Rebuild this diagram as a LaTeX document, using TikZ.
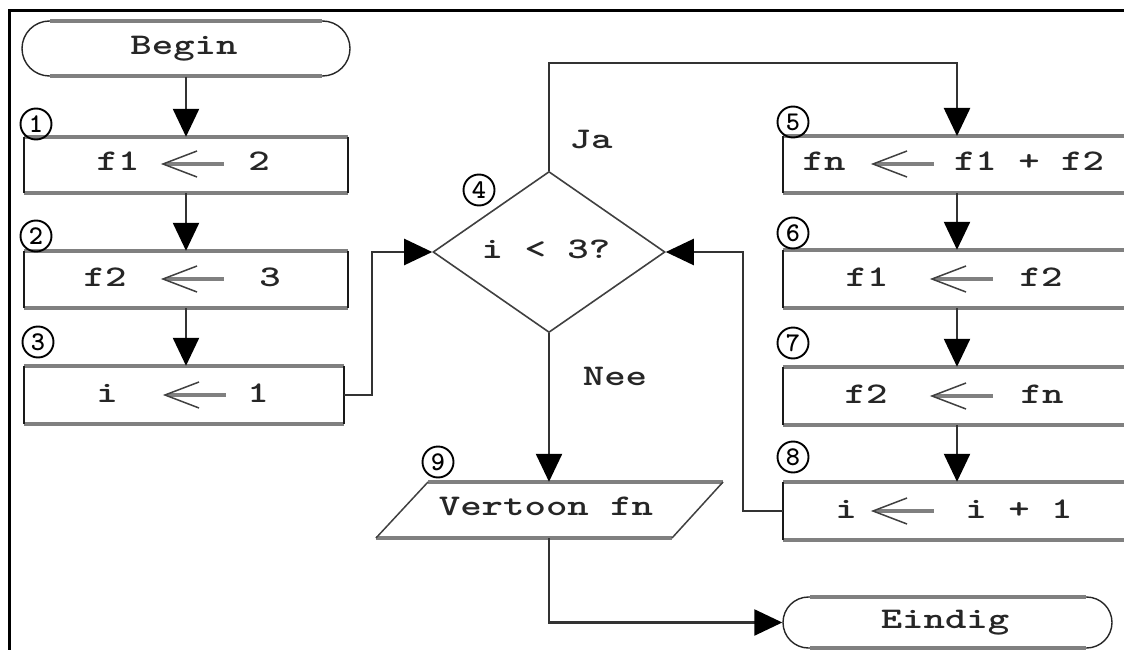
\documentclass[tikz,border=0pt]{standalone}
\usepackage{fontspec}
\usepackage{graphicx}
\newfontfamily\cmono{lmmonolt10-bold.otf}
\usetikzlibrary{arrows.meta,shapes.geometric,shapes.misc}
\newcommand\T[1]{\scalebox{1.36}[1]{#1}}
\tikzset{
  lab/.style={font=\cmono\fontsize{30}{36}\selectfont, text=black!85, inner sep=0pt, anchor=base},
  num/.style={circle, draw=black, line width=1.9, minimum size=31, inner sep=0pt,
              font=\cmono\fontsize{27}{30}\selectfont},
  conn/.style={draw=black!80, line width=2.4},
  arr/.style={conn, -{Triangle[length=28pt,width=26pt,color=black]}},
  hedge/.style={draw=black!50, line width=4},
  vedge/.style={draw=black!90, line width=2},
  boxn/.style={rectangle, inner sep=0pt, draw=none},
  termn/.style={rounded rectangle, inner sep=0pt, draw=black!85, line width=1.4},
  decn/.style={diamond, inner sep=0pt, draw=black!75, line width=1.6, minimum width=232, minimum height=161},
}
\newcommand\boxedges[1]{%
  \draw[hedge] (#1.north west) -- (#1.north east);
  \draw[hedge] (#1.south west) -- (#1.south east);
  \draw[vedge] (#1.north west) -- (#1.south west);
  \draw[vedge] (#1.north east) -- (#1.south east);}
\newcommand\asgn[2]{%
  \draw[draw=black!50, line width=3.5] (#1+3,#2) -- ++(58,0);
  \draw[draw=black!75, line width=1.5] (#1+34,#2-13) -- (#1,#2) -- (#1+34,#2+13);}
\begin{document}
\begin{tikzpicture}[x=1pt,y=-1pt]
\useasboundingbox (0,0) rectangle (1124,650);
\clip (0,0) rectangle (1124,650);
\fill[white] (0,0) rectangle (1124,650);
% frame
\draw[line width=3, black] (9,660) -- (9,11) -- (1130,11);

% terminals
\node[termn, minimum width=328, minimum height=55] (begin) at (186,48.5) {};
\draw[hedge] (50,21) -- (322,21);
\draw[hedge] (50,76) -- (322,76);
\node[lab] (tbegin) at (184,55) {\T{Begin}};

\node[termn, minimum width=329, minimum height=51] (eind) at (947.5,622.5) {};
\draw[hedge] (810,597) -- (1086,597);
\draw[hedge] (810,648) -- (1086,648);
\node[lab] (teind) at (945,628) {\T{Eindig}};

% left column boxes
\node[boxn, minimum width=324, minimum height=56] (b1) at (186,165) {};
\node[boxn, minimum width=324, minimum height=57] (b2) at (186,279.5) {};
\node[boxn, minimum width=320, minimum height=58] (b3) at (184,395) {};
\boxedges{b1}\boxedges{b2}\boxedges{b3}

% right column boxes
\node[boxn, minimum width=357, minimum height=57] (b5) at (961.5,164.5) {};
\node[boxn, minimum width=357, minimum height=58] (b6) at (961.5,279) {};
\node[boxn, minimum width=357, minimum height=58] (b7) at (961.5,396) {};
\node[boxn, minimum width=357, minimum height=58] (b8) at (961.5,511) {};
\boxedges{b5}\boxedges{b6}\boxedges{b7}\boxedges{b8}

% decision
\node[decn] (d) at (549,252) {};
\node[lab] (td) at (546,258) {\T{i < 3?}};

% output parallelogram
\node[boxn, minimum width=296, minimum height=56] (v) at (549.5,510) {};
\draw[hedge] (428,482) -- (723,482);
\draw[hedge] (376,538) -- (672,538);
\draw[draw=black!75, line width=1.5] (428,482) -- (376,538);
\draw[draw=black!75, line width=1.5] (723,482) -- (672,538);
\node[lab] (tv) at (546,515) {\T{Vertoon fn}};

% box texts
\node[lab] (t1a) at (118,171) {\T{f1}};  \node[lab] (t1b) at (259,171) {\T{2}};  \asgn{163}{164}
\node[lab] (t2a) at (105,286) {\T{f2}};  \node[lab] (t2b) at (270,286) {\T{3}};  \asgn{163}{279}
\node[lab] (t3a) at (107,402) {\T{i}};   \node[lab] (t3b) at (258,402) {\T{1}};  \asgn{165}{395}
\node[lab] (t5a) at (824,171) {\T{fn}};  \node[lab] (t5b) at (1029,171) {\T{f1 + f2}}; \asgn{873}{164}
\node[lab] (t6a) at (867,286) {\T{f1}};  \node[lab] (t6b) at (1041,286) {\T{f2}}; \asgn{932}{279}
\node[lab] (t7a) at (866,403) {\T{f2}};  \node[lab] (t7b) at (1042,403) {\T{fn}}; \asgn{932}{396}
\node[lab] (t8a) at (846,518) {\T{i}};   \node[lab] (t8b) at (1019,518) {\T{i + 1}}; \asgn{873}{511}

% step numbers
\node[num] (n1) at (36,124) {1};
\node[num] (n2) at (36,236) {2};
\node[num] (n3) at (38,342) {3};
\node[num] (n4) at (479,190) {4};
\node[num] (n5) at (793,122) {5};
\node[num] (n6) at (793,233) {6};
\node[num] (n7) at (793,343) {7};
\node[num] (n8) at (793,457) {8};
\node[num] (n9) at (438,462) {9};

% labels
\node[lab] (ja) at (591,149) {\T{Ja}};
\node[lab] (nee) at (615,385) {\T{Nee}};

% connectors
\coordinate (c5) at (957,136);
\draw[arr] (begin.south) -- (b1.north);
\draw[arr] (b1.south) -- (b2.north);
\draw[arr] (b2.south) -- (b2.south |- b3.north);
\draw[arr] (b3.east) -- ++(28,0) |- (d.west);
\draw[arr] (d.north) -- ++(0,-107.5) -| (c5);
\draw[arr] (b5.south -| c5) -- (b6.north -| c5);
\draw[arr] (b6.south -| c5) -- (b7.north -| c5);
\draw[arr] (b7.south -| c5) -- (b8.north -| c5);
\draw[arr] (b8.west) -- ++(-40,0) |- (d.east);
\draw[arr] (d.south) -- (d.south |- v.north);
\draw[arr] (d.south |- v.south) |- (eind.west);
\end{tikzpicture}
\end{document}
